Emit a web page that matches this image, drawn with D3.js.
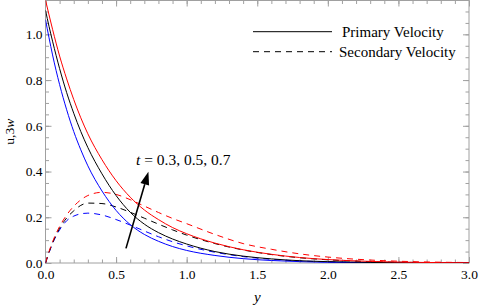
<!DOCTYPE html>
<html>
<head>
<meta charset="utf-8">
<script src="https://cdn.jsdelivr.net/npm/d3@7"></script>
<style>
  body { margin: 0; background: #fff; }
  svg { display: block; }
  svg text { font-family: 'Liberation Serif', 'Times New Roman', Times, serif; }
</style>
</head>
<body>
<div id="root"></div>
<script>
// y positions where the curves were read
const yGrid = [0, 0.025, 0.05, 0.1, 0.15, 0.2, 0.25, 0.3, 0.4, 0.5, 0.6, 0.7, 0.8, 0.9, 1.0, 1.2, 1.4, 1.6, 1.8, 2.0, 2.3, 2.6, 3.0];

// primary velocity u, t = 0.3, 0.5, 0.7
const uT03 = [1.064, 0.985, 0.91, 0.78, 0.67, 0.575, 0.495, 0.425, 0.315, 0.23, 0.168, 0.125, 0.095, 0.072, 0.055, 0.033, 0.019, 0.011, 0.006, 0.003, 0.0012, 0.0004, 0.0001];
const uT05 = [1.105, 1.035, 0.97, 0.85, 0.745, 0.655, 0.575, 0.505, 0.39, 0.295, 0.222, 0.17, 0.133, 0.105, 0.083, 0.05, 0.03, 0.018, 0.01, 0.006, 0.0025, 0.001, 0.0003];
const uT07 = [1.15, 1.085, 1.022, 0.905, 0.805, 0.715, 0.635, 0.565, 0.452, 0.36, 0.288, 0.232, 0.19, 0.155, 0.128, 0.087, 0.058, 0.038, 0.024, 0.015, 0.007, 0.003, 0.001];

// secondary velocity 3w, t = 0.3, 0.5, 0.7
const wT03 = [0, 0.045, 0.085, 0.145, 0.185, 0.205, 0.215, 0.218, 0.21, 0.19, 0.166, 0.14, 0.115, 0.093, 0.075, 0.047, 0.028, 0.016, 0.009, 0.005, 0.002, 0.001, 0.0002];
const wT05 = [0, 0.047, 0.088, 0.152, 0.197, 0.228, 0.252, 0.262, 0.26, 0.245, 0.222, 0.196, 0.17, 0.145, 0.122, 0.085, 0.057, 0.037, 0.023, 0.014, 0.006, 0.0025, 0.0007];
const wT07 = [0, 0.05, 0.093, 0.16, 0.21, 0.248, 0.276, 0.295, 0.309, 0.3, 0.277, 0.249, 0.221, 0.195, 0.172, 0.125, 0.085, 0.06, 0.04, 0.026, 0.013, 0.006, 0.002];

const xTicks = [0, 0.5, 1.0, 1.5, 2.0, 2.5, 3.0];
const yTicks = [0, 0.2, 0.4, 0.6, 0.8, 1.0];
const legendLabels = ['Primary Velocity', 'Secondary Velocity'];

const width = 480, height = 308;
const margin = {top: 0.5, right: 11, bottom: 45, left: 45.5};

const svg = d3.select('#root')
  .append('svg')
  .attr('width', width)
  .attr('height', height);

const x = d3.scaleLinear().domain([0, 3]).range([margin.left, width - margin.right]);
const y = d3.scaleLinear().domain([0, 1.148]).range([height - margin.bottom, margin.top]);

svg.append('clipPath').attr('id', 'clip')
  .append('rect')
  .attr('x', x(0)).attr('y', y(1.148))
  .attr('width', x(3) - x(0)).attr('height', y(0) - y(1.148));

// frame
svg.append('rect')
  .attr('x', x(0)).attr('y', y(1.148))
  .attr('width', x(3) - x(0)).attr('height', y(0) - y(1.148))
  .attr('fill', 'none').attr('stroke', '#a0a0a0').attr('stroke-width', 1);

// ticks (inward, Mathematica style)
const xMinor = d3.range(0, 3.0001, 0.1);
const yMinor = d3.range(0, 1.1481, 0.05);
const tickColor = '#a0a0a0';

function styleAxis(g) {
  g.attr('font-family', null).attr('font-size', null);
  g.select('.domain').remove();
  g.selectAll('line').attr('stroke', tickColor);
  g.selectAll('text').attr('fill', '#000').style('font-size', '13.5px');
}

svg.append('g').attr('transform', `translate(0,${y(0)})`)
  .call(d3.axisBottom(x).tickValues(xMinor).tickSize(-3.5).tickFormat(''))
  .call(styleAxis);
svg.append('g').attr('transform', `translate(0,${y(0)})`)
  .call(d3.axisBottom(x).tickValues(xTicks).tickSize(-6).tickPadding(6).tickFormat(d3.format('.1f')))
  .call(styleAxis);
svg.append('g').attr('transform', `translate(0,${y(1.148)})`)
  .call(d3.axisTop(x).tickValues(xMinor).tickSize(-3.5).tickFormat(''))
  .call(styleAxis);
svg.append('g').attr('transform', `translate(0,${y(1.148)})`)
  .call(d3.axisTop(x).tickValues(xTicks).tickSize(-6).tickFormat(''))
  .call(styleAxis);

svg.append('g').attr('transform', `translate(${x(0)},0)`)
  .call(d3.axisLeft(y).tickValues(yMinor).tickSize(-3.5).tickFormat(''))
  .call(styleAxis);
svg.append('g').attr('transform', `translate(${x(0)},0)`)
  .call(d3.axisLeft(y).tickValues(yTicks).tickSize(-6).tickPadding(3).tickFormat(d3.format('.1f')))
  .call(styleAxis);
svg.append('g').attr('transform', `translate(${x(3)},0)`)
  .call(d3.axisRight(y).tickValues(yMinor).tickSize(-3.5).tickFormat(''))
  .call(styleAxis);
svg.append('g').attr('transform', `translate(${x(3)},0)`)
  .call(d3.axisRight(y).tickValues(yTicks).tickSize(-6).tickFormat(''))
  .call(styleAxis);

// axis labels
svg.append('text')
  .attr('x', (x(0) + x(3)) / 2).attr('y', 302)
  .attr('text-anchor', 'middle')
  .style('font-size', '15px').style('font-style', 'italic')
  .text('y');

const yLab = svg.append('text')
  .attr('transform', `translate(14,${(y(0) + y(1.148)) / 2}) rotate(-90)`)
  .attr('text-anchor', 'middle')
  .style('font-size', '13.5px');
yLab.append('tspan').text('u,3');
yLab.append('tspan').style('font-style', 'italic').text('w');

// curves
const series = [
  {values: wT03, color: 'blue', dash: '6,5'},
  {values: wT05, color: 'black', dash: '6,5'},
  {values: wT07, color: 'red', dash: '6,5'},
  {values: uT03, color: 'blue', dash: null},
  {values: uT05, color: 'black', dash: null},
  {values: uT07, color: 'red', dash: null}
];

const line = d3.line()
  .x((d, i) => x(yGrid[i]))
  .y(d => y(d))
  .curve(d3.curveMonotoneX);

svg.append('g').attr('clip-path', 'url(#clip)')
  .selectAll('path')
  .data(series)
  .enter()
    .append('path')
    .attr('d', d => line(d.values))
    .attr('fill', 'none')
    .attr('stroke', d => d.color)
    .attr('stroke-width', 1)
    .attr('stroke-dasharray', d => d.dash);

// arrow showing increasing t
const arrowFrom = [0.57, 0.064], arrowTo = [0.729, 0.399];
const ax0 = x(arrowFrom[0]), ay0 = y(arrowFrom[1]);
const ax1 = x(arrowTo[0]), ay1 = y(arrowTo[1]);
const ang = Math.atan2(ay1 - ay0, ax1 - ax0);
const headLen = 13, headW = 4.5;
const bx = ax1 - headLen * Math.cos(ang), by = ay1 - headLen * Math.sin(ang);
svg.append('line')
  .attr('x1', ax0).attr('y1', ay0).attr('x2', bx).attr('y2', by)
  .attr('stroke', '#000').attr('stroke-width', 1.6);
svg.append('path')
  .attr('d', d3.line()([
    [ax1, ay1],
    [bx + headW * Math.sin(ang), by - headW * Math.cos(ang)],
    [bx - headW * Math.sin(ang), by + headW * Math.cos(ang)]
  ]) + 'Z')
  .attr('fill', '#000');

const tLab = svg.append('text')
  .attr('x', 136).attr('y', 165)
  .style('font-size', '15.5px');
tLab.append('tspan').style('font-style', 'italic').text('t');
tLab.append('tspan').text(' = 0.3, 0.5, 0.7');

// legend
const legend = svg.append('g');
legendLabels.forEach((label, i) => {
  const ly = 31.7 + i * 20;
  legend.append('line')
    .attr('x1', 253).attr('x2', 332).attr('y1', ly).attr('y2', ly)
    .attr('stroke', '#000').attr('stroke-width', 1)
    .attr('stroke-dasharray', i === 1 ? '6,5' : null);
  legend.append('text')
    .attr('x', i === 0 ? 342 : 339).attr('y', ly + 5)
    .style('font-size', '15px')
    .text(label);
});
</script>
</body>
</html>
